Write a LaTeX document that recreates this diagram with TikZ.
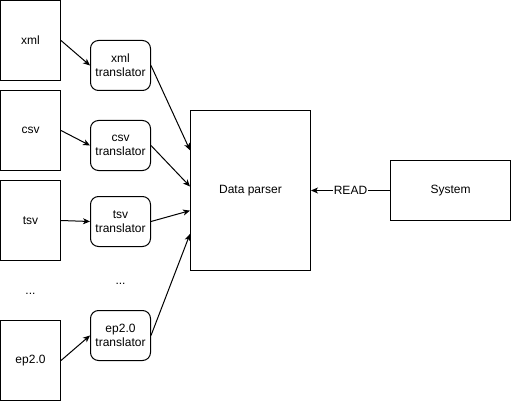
\documentclass[tikz,border=0pt]{standalone}
\usepackage{fontspec}
\setmainfont{Liberation Sans}
\usepackage{tikz}
\usetikzlibrary{arrows.meta,positioning,calc}

\begin{document}
\begin{tikzpicture}[x=1pt, y=-1pt, line width=1pt, font=\fontsize{12}{14}\selectfont,
	src/.style={draw, minimum width=60pt, minimum height=80pt, inner sep=0pt},
	trans/.style={draw, rounded corners=8pt, minimum width=60pt, minimum height=50pt, inner sep=0pt, align=center},
	pfeil/.style={-{Stealth[length=7pt,width=6pt,inset=2pt]}}]
	\useasboundingbox (-0.5,-0.5) rectangle (510.5,400.5); % Rand wie Vorlage
	
	% Quellen
	\node[src] (xml) at (30,40) {xml};
	\node[src] (csv) at (30,130) {csv};
	\node[src] (tsv) at (30,220) {tsv};
	\node (dotsL) at (30,293) {...};
	\node[src] (ep) at (30,360) {ep2.0};
	
	% Uebersetzer
	\node[trans] (xmlT) at (120,65) {xml\\translator};
	\node[trans] (csvT) at (120,145) {csv\\translator};
	\node[trans] (tsvT) at (120,221) {tsv\\translator};
	\node (dotsR) at (120,283) {...};
	\node[trans] (epT) at (120,335) {ep2.0\\translator};
	
	% Parser und System
	\node[draw, minimum width=120pt, minimum height=160pt] (parser) at (250,190) {Data parser};
	\node[draw, minimum width=120pt, minimum height=60pt] (sys) at (450,190) {System};
	
	\draw[pfeil] (xml.east) -- (xmlT.west);
	\draw[pfeil] (csv.east) -- (csvT.west);
	\draw[pfeil] (tsv.east) -- (tsvT.west);
	\draw[pfeil] (ep.east) -- (epT.west);
	
	\draw[pfeil] (xmlT.east) -- ($(parser.north west)!0.25!(parser.south west)$);
	\draw[pfeil] (csvT.east) -- ($(parser.north west)!0.475!(parser.south west)$);
	\draw[pfeil] (tsvT.east) -- ($(parser.north west)!0.625!(parser.south west)$);
	\draw[pfeil] (epT.east) -- ($(parser.north west)!0.77!(parser.south west)$);
	
	\draw[pfeil] (sys.west) -- node[fill=white, inner sep=1pt] (read) {READ} (parser.east);
	
	%\draw[help lines] (0,0) grid (511,401);
\end{tikzpicture}
\end{document}
